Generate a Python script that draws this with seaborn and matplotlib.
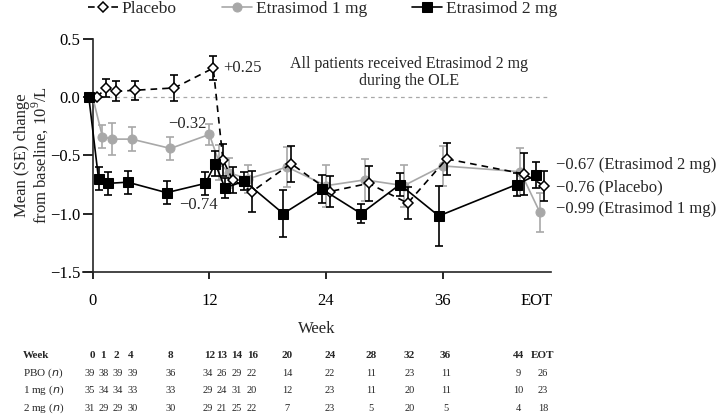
import numpy as np
import pandas as pd
import seaborn as sns
import matplotlib.pyplot as plt
import matplotlib.transforms as mtransforms

# weeks shown in the chart, EOT drawn after week 44
weeks = ['0', '1', '2', '4', '8', '12', '13', '14', '16', '20', '24', '28', '32', '36', '44', 'EOT']
week_pos = [0, 1, 2, 4, 8, 12, 13, 14, 16, 20, 24, 28, 32, 36, 44, 46]

pbo_mean = [0.0, 0.08, 0.05, 0.06, 0.08, 0.25, -0.54, -0.71, -0.81, -0.57, -0.81, -0.74, -0.91, -0.53, -0.66, -0.76]
pbo_se = [0.0, 0.075, 0.085, 0.08, 0.115, 0.10, 0.14, 0.11, 0.18, 0.155, 0.13, 0.15, 0.14, 0.14, 0.18, 0.13]
mg1_mean = [0.0, -0.34, -0.36, -0.36, -0.44, -0.32, -0.56, -0.65, -0.70, -0.60, -0.76, -0.71, -0.76, -0.59, -0.64, -0.99]
mg1_se = [0.0, 0.10, 0.14, 0.10, 0.10, 0.09, 0.15, 0.13, 0.12, 0.17, 0.18, 0.18, 0.18, 0.17, 0.20, 0.17]
mg2_mean = [0.0, -0.70, -0.74, -0.73, -0.82, -0.74, -0.57, -0.78, -0.72, -1.00, -0.79, -1.00, -0.75, -1.02, -0.75, -0.67]
mg2_se = [0.0, 0.10, 0.10, 0.10, 0.10, 0.10, 0.11, 0.09, 0.08, 0.20, 0.12, 0.08, 0.10, 0.26, 0.10, 0.11]

pbo_n = [39, 38, 39, 39, 36, 34, 26, 29, 22, 14, 22, 11, 23, 11, 9, 26]
mg1_n = [35, 34, 34, 33, 33, 29, 24, 31, 20, 12, 23, 11, 20, 11, 10, 23]
mg2_n = [31, 29, 29, 30, 30, 29, 21, 25, 22, 7, 23, 5, 20, 5, 4, 18]

sns.set_style('ticks')
plt.rcParams['font.family'] = ['Liberation Serif', 'DejaVu Serif']
plt.rcParams['mathtext.fontset'] = 'custom'
plt.rcParams['mathtext.rm'] = 'Liberation Serif'

GRAY = '#a8a8a8'
fig = plt.figure(figsize=(7.28, 4.15), dpi=100)
ax = fig.add_axes([0.114, 0.345, 0.643, 0.561])

x = np.array(week_pos, dtype=float)

ax.axhline(0, xmin=1 / 48.15, color=GRAY, lw=0.9, ls=(0, (3, 3)), zorder=1)

# 1 mg (gray)
sns.lineplot(x=x, y=mg1_mean, ax=ax, sort=False, errorbar=None, color=GRAY, lw=1.2,
             marker='o', markersize=6.5, markeredgecolor=GRAY, markerfacecolor=GRAY,
             label='Etrasimod 1 mg', zorder=3)
ax.errorbar(x[1:], mg1_mean[1:], yerr=mg1_se[1:], fmt='none', ecolor=GRAY, elinewidth=1.2,
            capsize=3, capthick=1.2, zorder=2)

# placebo (dashed, open diamond)
sns.lineplot(x=x + 0.4, y=pbo_mean, ax=ax, sort=False, errorbar=None, color='black', lw=1.2,
             linestyle=(0, (4, 3)), marker='D', markersize=5.5, markeredgecolor='black',
             markerfacecolor='white', markeredgewidth=1.1, label='Placebo', zorder=5)
ax.errorbar(x[1:] + 0.4, pbo_mean[1:], yerr=pbo_se[1:], fmt='none', ecolor='black',
            elinewidth=1.2, capsize=3, capthick=1.2, zorder=4)

# 2 mg (black squares)
sns.lineplot(x=x - 0.4, y=mg2_mean, ax=ax, sort=False, errorbar=None, color='black', lw=1.2,
             marker='s', markersize=6.5, markeredgecolor='black', markerfacecolor='black',
             label='Etrasimod 2 mg', zorder=6)
ax.errorbar(x[1:] - 0.4, mg2_mean[1:], yerr=mg2_se[1:], fmt='none', ecolor='black',
            elinewidth=1.2, capsize=3, capthick=1.2, zorder=5)

ax.set_xlim(-1, 47.15)
ax.set_ylim(-1.5, 0.5)
ax.spines['left'].set_position(('data', 0))
ax.spines['top'].set_visible(False)
ax.spines['right'].set_visible(False)
for s in ['left', 'bottom']:
    ax.spines[s].set_linewidth(1.2)

ax.set_yticks([0.5, 0.0, -0.5, -1.0, -1.5])
ax.set_yticklabels(['0.5', '0.0', '\u22120.5', '\u22121.0', '\u22121.5'])
ax.set_xticks([0, 12, 24, 36, 45.7])
ax.set_xticklabels(['0', '12', '24', '36', 'EOT'])
ax.tick_params(axis='both', labelsize=12, width=1.2, direction='out', colors='black')
ax.tick_params(axis='y', length=7, pad=2)
ax.tick_params(axis='x', length=5, pad=10)
ax.xaxis.get_major_ticks()[-1].tick1line.set_visible(False)

ax.set_xlabel('Week', fontsize=12, labelpad=9)
ax.set_ylabel('Mean (SE) change\nfrom baseline, $10^9$/L', fontsize=12, linespacing=1.0)
ax.yaxis.set_label_coords(-0.068, 0.5)

# annotations
ax.text(13.4, 0.255, '+0.25', fontsize=12, va='center', ha='left')
ax.text(9.7, -0.23, '\u22120.32', fontsize=12, va='center', ha='center')
ax.text(10.9, -0.93, '\u22120.74', fontsize=12, va='center', ha='center')
ax.text(32.5, 0.215, 'All patients received Etrasimod 2 mg\nduring the OLE', fontsize=11.5,
        ha='center', va='center', linespacing=1.1)
ax.text(47.7, -0.585, '\u22120.67 (Etrasimod 2 mg)', fontsize=12, va='center', ha='left', clip_on=False)
ax.text(47.7, -0.775, '\u22120.76 (Placebo)', fontsize=12, va='center', ha='left', clip_on=False)
ax.text(47.7, -0.96, '\u22120.99 (Etrasimod 1 mg)', fontsize=12, va='center', ha='left', clip_on=False)

# legend above the plot
handles, labels = ax.get_legend_handles_labels()
order = [labels.index(l) for l in ['Placebo', 'Etrasimod 1 mg', 'Etrasimod 2 mg']]
ax.get_legend().remove()
fig.legend([handles[i] for i in order], [labels[i] for i in order], loc='upper left',
           bbox_to_anchor=(0.099, 1.035), ncol=3, frameon=False, fontsize=12.5,
           handlelength=1.75, handletextpad=0.2, columnspacing=2.6)

# numbers at risk table
head_x = [0, 1.05, 2.4, 3.95, 8, 12, 13.3, 14.8, 16.4, 20, 24.4, 28.6, 32.6, 36.3, 43.8, 46.3]
count_x = [-0.28, 1.17, 2.6, 4.15, 8, 11.8, 13.3, 14.8, 16.4, 20, 24.4, 28.6, 32.6, 36.3, 43.8, 46.3]
trans = mtransforms.blended_transform_factory(ax.transData, fig.transFigure)
row_y = [1 - 355 / 415, 1 - 373 / 415, 1 - 390 / 415, 1 - 408 / 415]
fig.text(0.031, row_y[0], 'Week', fontsize=8, fontweight='bold', va='center', ha='left')
for name, yy in zip(['PBO', '1 mg', '2 mg'], row_y[1:]):
    fig.text(0.031, yy, name + ' ($\\it{n}$)', fontsize=8, va='center', ha='left')
for i, w in enumerate(weeks):
    ax.text(head_x[i], row_y[0], w, transform=trans, fontsize=8, fontweight='bold',
            ha='center', va='center', clip_on=False)
    for vals, yy in zip([pbo_n, mg1_n, mg2_n], row_y[1:]):
        ax.text(count_x[i], yy, str(vals[i]), transform=trans, fontsize=7.5,
                ha='center', va='center', clip_on=False)

fig.savefig('out.png', dpi=100)
